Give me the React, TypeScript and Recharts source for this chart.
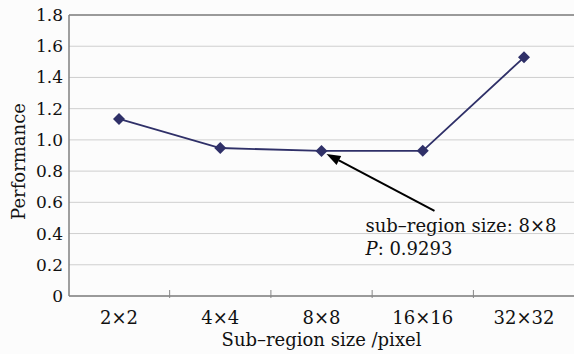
import { LineChart, Line, XAxis, YAxis, CartesianGrid, ReferenceLine, LabelList } from "recharts";

const categories = ["2×2", "4×4", "8×8", "16×16", "32×32"];
const performance = [1.134, 0.948, 0.9293, 0.93, 1.529];
const yTicks = [0, 0.2, 0.4, 0.6, 0.8, 1.0, 1.2, 1.4, 1.6, 1.8];
const annotatedCategory = "8×8";
const annotationText = "sub–region size: 8×8";
const annotationValue = "0.9293";

const data = categories.map((name, i) => ({ name, value: performance[i] }));

const FONT = "'DejaVu Serif', serif";
const LINE_COLOR = "#2f3068";
const HALF_STEP = 50.6;

function Diamond(props: any) {
  const { cx, cy } = props;
  if (cx == null || cy == null) return null;
  const r = 6;
  return (
    <polygon
      points={`${cx},${cy - r} ${cx + r},${cy} ${cx},${cy + r} ${cx - r},${cy}`}
      fill={LINE_COLOR}
    />
  );
}

function XTick(props: any) {
  const { x, y, payload, index } = props;
  return (
    <g>
      <text x={x} y={y + 26} textAnchor="middle" fontFamily={FONT} fontSize={18} fill="#111">
        {payload.value}
      </text>
      {index > 0 && (
        <line x1={x - HALF_STEP} x2={x - HALF_STEP} y1={y} y2={y - 8} stroke="#888" strokeWidth={1} />
      )}
    </g>
  );
}

function Annotation(props: any) {
  const { x, y, index } = props;
  if (categories[index] !== annotatedCategory) return null;
  const tipX = x + 5;
  const tipY = y + 3;
  const tailX = x + 113;
  const tailY = y + 60;
  const ang = Math.atan2(tipY - tailY, tipX - tailX);
  const len = 14;
  const w = 5;
  const bx = tipX - len * Math.cos(ang);
  const by = tipY - len * Math.sin(ang);
  const px = -Math.sin(ang) * w;
  const py = Math.cos(ang) * w;
  return (
    <g>
      <line x1={tailX} y1={tailY} x2={bx} y2={by} stroke="#000" strokeWidth={2} />
      <polygon points={`${tipX},${tipY} ${bx + px},${by + py} ${bx - px},${by - py}`} fill="#000" />
      <text x={x + 44} y={y + 81} fontFamily={FONT} fontSize={18} fill="#111">
        {annotationText}
      </text>
      <text x={x + 44} y={y + 104} fontFamily={FONT} fontSize={18} fill="#111">
        <tspan fontStyle="italic">P</tspan>: {annotationValue}
      </text>
    </g>
  );
}

export default function App() {
  return (
    <div style={{ position: "absolute", left: 0, top: 0, width: 574, height: 354, background: "#fcfcfc" }}>
      <LineChart width={574} height={354} data={data} margin={{ top: 15, right: 0, left: 0, bottom: 0 }}>
        <CartesianGrid vertical={false} stroke="#cfcfcf" />
        <XAxis
          dataKey="name"
          padding={{ left: 50, right: 50 }}
          height={58}
          tickLine={false}
          tickSize={0}
          axisLine={{ stroke: "#808080", strokeWidth: 1.5 }}
          tick={<XTick />}
          interval={0}
          label={{
            value: "Sub–region size /pixel",
            position: "insideBottom",
            offset: 8,
            style: { fontFamily: FONT, fontSize: 18, fill: "#111" },
          }}
        />
        <YAxis
          domain={[0, 1.8]}
          ticks={yTicks}
          width={69}
          tickLine={false}
          tickSize={0}
          tickMargin={6}
          axisLine={{ stroke: "#808080", strokeWidth: 1.5 }}
          tickFormatter={(v: number) => (v === 0 ? "0" : v.toFixed(1))}
          tick={{ fontFamily: FONT, fontSize: 17, fill: "#111" }}
          label={{
            value: "Performance",
            angle: -90,
            position: "insideLeft",
            offset: 19,
            dy: 6,
            style: { fontFamily: FONT, fontSize: 18, fill: "#111", textAnchor: "middle" },
          }}
        />
        <ReferenceLine y={1.8} stroke="#808080" strokeWidth={1.5} />
        <Line
          dataKey="value"
          stroke={LINE_COLOR}
          strokeWidth={1.8}
          dot={<Diamond />}
          activeDot={false}
          isAnimationActive={false}
        >
          <LabelList dataKey="value" content={<Annotation />} />
        </Line>
      </LineChart>
    </div>
  );
}
